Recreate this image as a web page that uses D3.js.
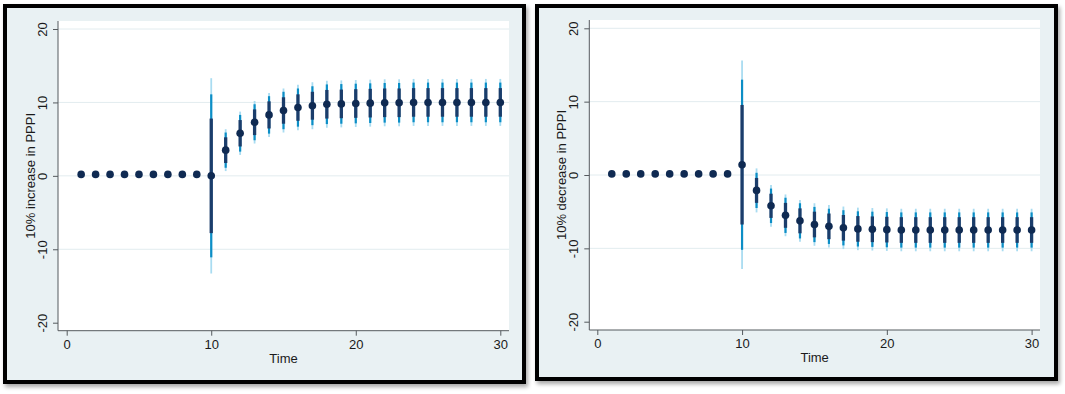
<!DOCTYPE html>
<html>
<head>
<meta charset="utf-8">
<script src="https://cdn.jsdelivr.net/npm/d3@7"></script>
<style>
  html, body { margin: 0; padding: 0; background: #ffffff; }
  svg { display: block; font-family: "Liberation Sans", Arial, sans-serif; }
</style>
</head>
<body>
<svg id="chart" width="1065" height="394"></svg>
<script>
// ---------- data ----------
const time = d3.range(1, 31);
const yTicks = [-20, -10, 0, 10, 20];
const xTicks = [0, 10, 20, 30];

// Panel A: 10% increase in PPPI
const incEst = [0.2,0.2,0.2,0.2,0.2,0.2,0.2,0.2,0.2, 0.0, 3.5,5.8,7.3,8.3,8.9,9.3,9.55,9.75,9.8,9.85,9.9,9.95,9.95,10.0,10.0,10.0,10.0,10.0,10.0,10.0];
const incDark  = [null,null,null,null,null,null,null,null,null, 7.8, 1.75,1.8,1.75,1.85,1.8,1.8,1.9,1.95,1.95,1.95,1.95,1.95,1.95,1.95,1.95,1.95,1.95,1.95,1.95,1.95];
const incMid   = [null,null,null,null,null,null,null,null,null, 11.1, 2.4,2.5,2.45,2.55,2.55,2.6,2.65,2.7,2.7,2.7,2.7,2.7,2.7,2.7,2.7,2.7,2.7,2.7,2.7,2.7];
const incLight = [null,null,null,null,null,null,null,null,null, 13.3, 2.85,2.95,2.9,3.0,3.0,3.1,3.2,3.2,3.2,3.2,3.2,3.2,3.2,3.2,3.2,3.2,3.2,3.2,3.2,3.2];

// Panel B: 10% decrease in PPPI
const decEst = [0.15,0.15,0.15,0.15,0.15,0.15,0.15,0.15,0.15, 1.4, -2.1,-4.2,-5.5,-6.25,-6.75,-7.0,-7.2,-7.35,-7.4,-7.45,-7.5,-7.5,-7.5,-7.5,-7.5,-7.5,-7.5,-7.5,-7.5,-7.5];
const decDark  = [null,null,null,null,null,null,null,null,null, 8.15, 1.7,1.65,1.7,1.7,1.75,1.75,1.75,1.75,1.75,1.75,1.75,1.75,1.75,1.75,1.75,1.75,1.75,1.75,1.75,1.75];
const decMid   = [null,null,null,null,null,null,null,null,null, 11.6, 2.4,2.35,2.4,2.4,2.4,2.4,2.4,2.4,2.4,2.4,2.4,2.4,2.4,2.4,2.4,2.4,2.4,2.4,2.4,2.4];
const decLight = [null,null,null,null,null,null,null,null,null, 14.2, 3.0,2.85,2.85,2.85,2.9,2.9,2.9,2.9,2.9,2.9,2.9,2.9,2.9,2.9,2.9,2.9,2.9,2.9,2.9,2.9];

const titles = ["10% increase in PPPI", "10% decrease in PPPI"];

// ---------- styles ----------
const C = {
  bg: "#e9f1f3", grid: "#e2ecef", axis: "#555a5e", text: "#1a1a1a",
  point: "#0f2a52", dark: "#1b3d6b", mid: "#0c8ec6", light: "#a9dcf1"
};
const fmt = d => String(d); // plain hyphen-minus as in reference

const svg = d3.select("#chart");
const defs = svg.append("defs");
const f = defs.append("filter").attr("id", "sh").attr("x", "-5%").attr("y", "-5%").attr("width", "112%").attr("height", "112%");
f.append("feGaussianBlur").attr("in", "SourceAlpha").attr("stdDeviation", 2).attr("result", "b");
f.append("feOffset").attr("in", "b").attr("dx", 2).attr("dy", 3).attr("result", "o");
f.append("feComponentTransfer").attr("in", "o").attr("result", "o2")
  .append("feFuncA").attr("type", "linear").attr("slope", 0.35);
const fm = f.append("feMerge");
fm.append("feMergeNode").attr("in", "o2");
fm.append("feMergeNode").attr("in", "SourceGraphic");

const panels = [
  { frame: {x: 5, y: 6, w: 519, h: 376}, plot: {l: 58, r: 509, t: 21, b: 330.7},
    x0: 66.7, x30: 500.3, y20: 29, ym20: 322.7, ylab: 42, ytitle: 30,
    est: incEst, dark: incDark, mid: incMid, light: incLight, title: titles[0] },
  { frame: {x: 537, y: 6, w: 519, h: 373}, plot: {l: 589.3, r: 1040, t: 20, b: 330},
    x0: 597.3, x30: 1031.6, y20: 28.3, ym20: 321.7, ylab: 573, ytitle: 561,
    est: decEst, dark: decDark, mid: decMid, light: decLight, title: titles[1] }
];

panels.forEach(p => {
  const g = svg.append("g");
  g.append("rect").attr("x", p.frame.x).attr("y", p.frame.y)
    .attr("width", p.frame.w).attr("height", p.frame.h)
    .attr("fill", C.bg).attr("stroke", "#000").attr("stroke-width", 4)
    .attr("filter", "url(#sh)");

  const x = d3.scaleLinear().domain([0, 30]).range([p.x0, p.x30]);
  const y = d3.scaleLinear().domain([-20, 20]).range([p.ym20, p.y20]);

  g.append("rect").attr("x", p.plot.l).attr("y", p.plot.t)
    .attr("width", p.plot.r - p.plot.l).attr("height", p.plot.b - p.plot.t)
    .attr("fill", "#fff");

  g.append("g").selectAll("line").data(yTicks.filter(v => v > -20)).join("line")
    .attr("x1", p.plot.l).attr("x2", p.plot.r)
    .attr("y1", d => y(d)).attr("y2", d => y(d))
    .attr("stroke", C.grid).attr("stroke-width", 1);

  const ya = d3.axisLeft(y).tickValues(yTicks).tickSize(5).tickPadding(4).tickFormat(fmt);
  const yg = g.append("g").attr("transform", `translate(${p.plot.l},0)`).call(ya);
  yg.select(".domain").attr("d", `M0,${p.plot.t}V${p.plot.b}`).attr("stroke", C.axis);
  yg.selectAll(".tick line").attr("stroke", C.axis);
  yg.selectAll(".tick text").attr("font-size", 13).attr("fill", C.text)
    .attr("font-family", "Liberation Sans, Arial, sans-serif")
    .attr("x", 0).attr("y", 0).attr("dy", null).attr("text-anchor", "middle")
    .attr("transform", `translate(${p.ylab - p.plot.l + 4.5},0) rotate(-90)`);

  const xa = d3.axisBottom(x).tickValues(xTicks).tickSize(5).tickPadding(4).tickFormat(fmt);
  const xg = g.append("g").attr("transform", `translate(0,${p.plot.b})`).call(xa);
  xg.select(".domain").attr("d", `M${p.plot.l},0H${p.plot.r}`).attr("stroke", C.axis);
  xg.selectAll(".tick line").attr("stroke", C.axis);
  xg.selectAll(".tick text").attr("font-size", 13).attr("fill", C.text)
    .attr("font-family", "Liberation Sans, Arial, sans-serif");

  g.append("text").attr("x", (p.plot.l + p.plot.r) / 2).attr("y", p.plot.b + 32)
    .attr("text-anchor", "middle").attr("font-size", 13).attr("fill", C.text).text("Time");
  const ym = (p.plot.t + p.plot.b) / 2;
  g.append("text").attr("transform", `translate(${p.ytitle + 4.5},${ym}) rotate(-90)`)
    .attr("text-anchor", "middle").attr("font-size", 13).attr("fill", C.text).text(p.title);

  const rows = time.map((t, i) => ({ t, e: p.est[i], d: p.dark[i], m: p.mid[i], l: p.light[i] }));
  const withCI = rows.filter(r => r.d !== null);
  const bands = [
    { key: "l", color: C.light, w: 1.8 },
    { key: "m", color: C.mid, w: 2.2 },
    { key: "d", color: C.dark, w: 3.3 }
  ];
  bands.forEach(b => {
    g.append("g").selectAll("line").data(withCI).join("line")
      .attr("x1", r => x(r.t)).attr("x2", r => x(r.t))
      .attr("y1", r => y(r.e + r[b.key])).attr("y2", r => y(r.e - r[b.key]))
      .attr("stroke", b.color).attr("stroke-width", b.w);
  });

  g.append("g").selectAll("circle").data(rows).join("circle")
    .attr("cx", r => x(r.t)).attr("cy", r => y(r.e)).attr("r", 3.8)
    .attr("fill", C.point);
});
</script>
</body>
</html>
